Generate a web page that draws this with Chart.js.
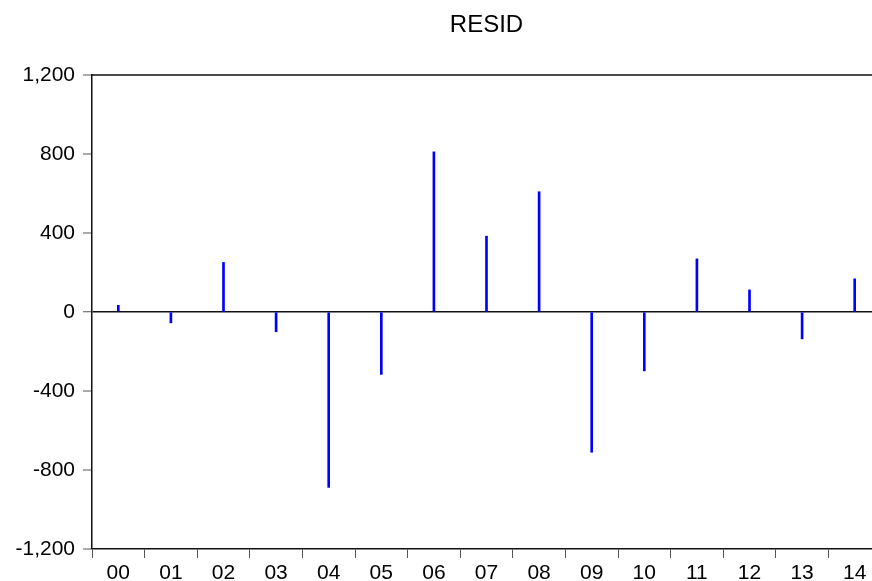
<!DOCTYPE html>
<html>
<head>
<meta charset="utf-8">
<script src="https://cdn.jsdelivr.net/npm/chart.js@4"></script>
<style>
  html, body { margin: 0; padding: 0; background: #fff; overflow: hidden; }
  #wrap { width: 884px; height: 581px; }
</style>
</head>
<body>
<div id="wrap"><canvas id="residchart"></canvas></div>
<script>
const years = ['00', '01', '02', '03', '04', '05', '06', '07', '08', '09', '10', '11', '12', '13', '14'];
const resid = [34, -55, 251, -100, -888, -316, 811, 384, 609, -710, -298, 269, 112, -136, 168];
const yTicks = [-1200, -800, -400, 0, 400, 800, 1200];

const fontName = '"Liberation Sans", Arial, sans-serif';

// title centred over the plot area, top frame line
const framePlugin = {
  id: 'frame',
  afterDraw(chart) {
    const { ctx, chartArea } = chart;
    ctx.save();
    ctx.strokeStyle = '#111';
    ctx.lineWidth = 1.5;
    ctx.beginPath();
    ctx.moveTo(chartArea.left, chartArea.top);
    ctx.lineTo(chartArea.right, chartArea.top);
    ctx.stroke();
    ctx.fillStyle = '#000';
    ctx.font = '24px ' + fontName;
    ctx.textAlign = 'center';
    ctx.textBaseline = 'middle';
    ctx.fillText('RESID', (chartArea.left + chartArea.right) / 2, 25);
    ctx.restore();
  }
};

const residChart = new Chart(document.querySelector('#residchart'), {
  type: 'bar',
  data: {
    labels: years,
    datasets: [{
      label: 'RESID',
      data: resid,
      backgroundColor: '#0000ff',
      borderWidth: 0,
      barThickness: 2
    }]
  },
  options: {
    responsive: true,
    maintainAspectRatio: false,
    animation: false,
    layout: { padding: { top: 75, right: 3, left: 0, bottom: 0 } },
    plugins: {
      legend: { display: false },
      tooltip: { enabled: false }
    },
    scales: {
      x: {
        offset: true,
        grid: {
          offset: true,
          drawOnChartArea: false,
          tickLength: 9,
          tickColor: '#555',
          tickWidth: 1
        },
        border: { color: '#111', width: 1.5 },
        ticks: { color: '#000', padding: 3, font: { family: fontName, size: 21 }, maxRotation: 0 },
        afterFit: s => { s.height = 32; }
      },
      y: {
        min: -1200,
        max: 1200,
        afterBuildTicks: s => { s.ticks = yTicks.map(v => ({ value: v })); },
        grid: {
          color: c => (c.tick && c.tick.value === 0 ? '#111' : 'rgba(0,0,0,0)'),
          lineWidth: c => (c.tick && c.tick.value === 0 ? 1.5 : 0),
          tickColor: '#555',
          tickLength: 9,
          tickWidth: 1
        },
        border: { color: '#111', width: 1.5 },
        ticks: {
          color: '#000',
          padding: 8,
          font: { family: fontName, size: 21 },
          callback: v => v.toLocaleString('en-US')
        },
        afterFit: s => { s.width = 92; }
      }
    }
  },
  plugins: [framePlugin]
});
</script>
</body>
</html>
